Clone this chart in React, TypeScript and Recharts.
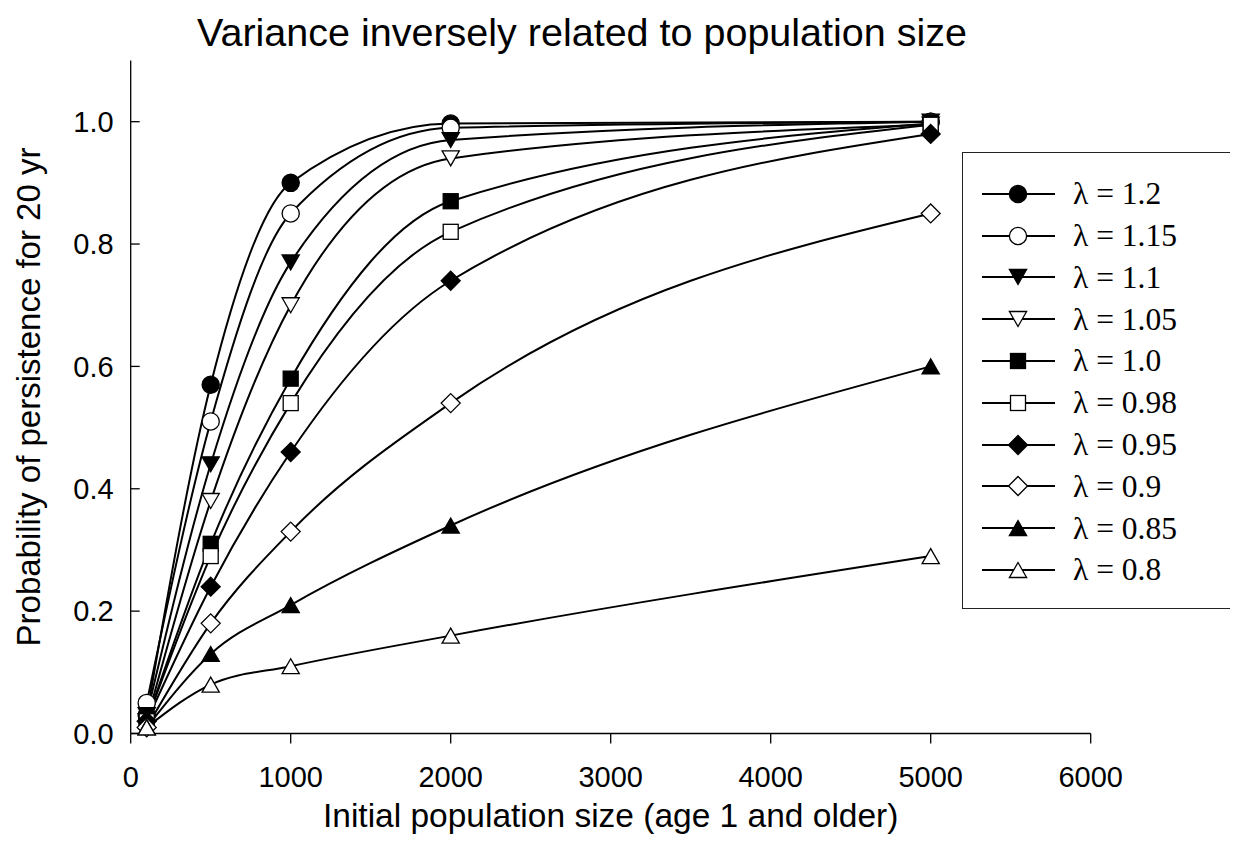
import React from 'react';
import { LineChart, Line, XAxis, YAxis, Legend, Label } from 'recharts';

// initial population size (age 1 and older)
const popSizes = [100, 500, 1000, 2000, 5000];

const lambdaNames = ['1.2', '1.15', '1.1', '1.05', '1.0', '0.98', '0.95', '0.9', '0.85', '0.8'];

// probability of persistence for 20 yr, one list per lambda
const lam120 = [0.03, 0.57, 0.9, 0.997, 1.0];
const lam115 = [0.05, 0.51, 0.85, 0.99, 1.0];
const lam110 = [0.03, 0.44, 0.77, 0.97, 1.0];
const lam105 = [0.02, 0.38, 0.7, 0.94, 0.995];
const lam100 = [0.02, 0.31, 0.58, 0.87, 0.997];
const lam098 = [0.02, 0.29, 0.54, 0.82, 0.995];
const lam095 = [0.02, 0.24, 0.46, 0.74, 0.98];
const lam090 = [0.01, 0.18, 0.33, 0.54, 0.85];
const lam085 = [0.01, 0.13, 0.21, 0.34, 0.6];
const lam080 = [0.01, 0.08, 0.11, 0.16, 0.29];

const seriesValues = [lam120, lam115, lam110, lam105, lam100, lam098, lam095, lam090, lam085, lam080];

const xTicks = [0, 1000, 2000, 3000, 4000, 5000, 6000];
const yTicks = [0, 0.2, 0.4, 0.6, 0.8, 1.0];

const shapes = ['circle', 'circle', 'triDown', 'triDown', 'square', 'square', 'diamond', 'diamond', 'triUp', 'triUp'];
const filled = [true, false, true, false, true, false, true, false, true, false];

const data = popSizes.map((n, i) => {
  const row: any = { n };
  seriesValues.forEach((vals, s) => {
    row['s' + s] = vals[i];
  });
  return row;
});

const SANS = 'Arial, "Liberation Sans", sans-serif';
const SERIF = '"Times New Roman", "Liberation Serif", serif';

function Marker({ cx, cy, shape, solid }: { cx: number; cy: number; shape: string; solid: boolean }) {
  const st = { fill: solid ? '#000' : '#fff', stroke: '#000', strokeWidth: 1.3 };
  if (shape === 'circle') return <circle cx={cx} cy={cy} r={8.6} {...st} />;
  if (shape === 'square') return <rect x={cx - 7.5} y={cy - 7.5} width={15} height={15} {...st} />;
  if (shape === 'diamond')
    return <polygon points={`${cx},${cy - 9.5} ${cx + 9.5},${cy} ${cx},${cy + 9.5} ${cx - 9.5},${cy}`} {...st} />;
  if (shape === 'triUp')
    return <polygon points={`${cx},${cy - 7.5} ${cx + 8.6},${cy + 7.5} ${cx - 8.6},${cy + 7.5}`} {...st} />;
  return <polygon points={`${cx},${cy + 7.5} ${cx + 8.6},${cy - 7.5} ${cx - 8.6},${cy - 7.5}`} {...st} />;
}

function renderLegend() {
  return (
    <div
      style={{
        width: 268,
        height: 435,
        border: '1.5px solid #222',
        background: '#fff',
        paddingTop: 20,
        boxSizing: 'content-box',
      }}
    >
      {lambdaNames.map((name, i) => (
        <div key={name} style={{ height: 41.8, display: 'flex', alignItems: 'center', paddingLeft: 19 }}>
          <svg width={74} height={24}>
            <line x1={0} y1={12} x2={73} y2={12} stroke="#000" strokeWidth={2} />
            <Marker cx={36} cy={12} shape={shapes[i]} solid={filled[i]} />
          </svg>
          <span style={{ marginLeft: 17, fontFamily: SERIF, fontSize: 31.5, color: '#000', lineHeight: 1 }}>
            λ = {name}
          </span>
        </div>
      ))}
    </div>
  );
}

export default function App() {
  return (
    <div style={{ width: 1230, height: 853, background: '#fff', fontFamily: SANS }}>
      <LineChart width={1230} height={853} data={data} margin={{ top: 52.5, right: 147.3, left: 0, bottom: 0 }}>
        <text x={574} y={38} textAnchor="middle" fontSize={39.5} fontFamily={SANS} fill="#000">
          Variance inversely related to population size
        </text>
        <XAxis
          dataKey="n"
          type="number"
          domain={[0, 6000]}
          ticks={xTicks}
          height={127.5}
          tickSize={10}
          tickMargin={23}
          axisLine={{ stroke: '#000', strokeWidth: 1.3 }}
          tickLine={{ stroke: '#000', strokeWidth: 1.3 }}
          tick={{ fontSize: 29, fill: '#000', fontFamily: SANS }}
        >
          <Label
            value="Initial population size (age 1 and older)"
            position="insideBottom"
            offset={34}
            style={{ fontSize: 33.5, fill: '#000', fontFamily: SANS }}
          />
        </XAxis>
        <YAxis
          type="number"
          domain={[0, 1.1]}
          ticks={yTicks}
          width={122.7}
          tickSize={-9}
          tickMargin={26}
          tickFormatter={(v: number) => v.toFixed(1)}
          axisLine={{ stroke: '#000', strokeWidth: 1.3 }}
          tickLine={{ stroke: '#000', strokeWidth: 1.3 }}
          tick={{ fontSize: 29, fill: '#000', fontFamily: SANS }}
        >
          <Label
            value="Probability of persistence for 20 yr"
            angle={-90}
            position="insideLeft"
            offset={20}
            style={{ fontSize: 33, fill: '#000', fontFamily: SANS, textAnchor: 'middle' }}
          />
        </YAxis>
        <Legend
          layout="vertical"
          align="center"
          verticalAlign="middle"
          content={renderLegend}
          wrapperStyle={{ left: 954, top: 144, width: 'auto', height: 'auto' }}
        />
        {seriesValues.map((_, s) => (
          <Line
            key={s}
            dataKey={'s' + s}
            name={'λ = ' + lambdaNames[s]}
            type="monotone"
            stroke="#000"
            strokeWidth={2}
            isAnimationActive={false}
            activeDot={false}
            dot={(p: any) => (
              <Marker key={`m-${s}-${p.index}`} cx={p.cx} cy={p.cy} shape={shapes[s]} solid={filled[s]} />
            )}
          />
        ))}
      </LineChart>
    </div>
  );
}
